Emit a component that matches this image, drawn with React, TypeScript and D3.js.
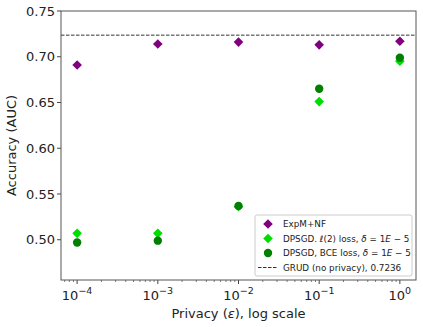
import * as d3 from "d3";
import React from "react";

const epsilons = [1e-4, 1e-3, 1e-2, 1e-1, 1];
const expmValues = [0.691, 0.714, 0.716, 0.713, 0.717];
const dpsgdL2Values = [0.507, 0.507, 0.536, 0.651, 0.695];
const dpsgdBceValues = [0.497, 0.499, 0.537, 0.665, 0.699];
const grudBaseline = 0.7236;
const yTicks = [0.5, 0.55, 0.6, 0.65, 0.7, 0.75];
const xTickExps = [-4, -3, -2, -1, 0];

const W = 423;
const H = 327;
const margin = { left: 61, right: 7, top: 11, bottom: 47 };

const App = () => {
  const x = d3
    .scaleLog()
    .domain([Math.pow(10, -4.2), Math.pow(10, 0.2)])
    .range([margin.left, W - margin.right]);
  const y = d3
    .scaleLinear()
    .domain([0.456, 0.75])
    .range([H - margin.bottom, margin.top]);

  const font = "DejaVu Sans, sans-serif";
  const bottom = H - margin.bottom;

  // minor ticks on log axis
  const minor: number[] = [];
  for (let e = -5; e <= 0; e++) {
    for (let k = 2; k <= 9; k++) {
      const v = k * Math.pow(10, e);
      if (v >= x.domain()[0] && v <= x.domain()[1]) minor.push(v);
    }
  }

  const diamond = d3.symbol().type(d3.symbolSquare).size(46)();
  const purple = "#800080";
  const lime = "#00dd00";
  const green = "#007f00";

  const legendX = 255;
  const legendY = 215;
  const legendRows = [
    { kind: "diamond", color: purple },
    { kind: "diamond", color: lime },
    { kind: "circle", color: green },
    { kind: "dash", color: "#333" },
  ];

  return (
    <svg
      width={W}
      height={H}
      style={{ position: "absolute", left: 0, top: 0, background: "#fff" }}
      fontFamily={font}
    >
      {/* baseline */}
      <line
        x1={margin.left}
        x2={W - margin.right}
        y1={y(grudBaseline)}
        y2={y(grudBaseline)}
        stroke="#333"
        strokeWidth={1}
        strokeDasharray="3.5,1.5"
      />

      {/* y axis ticks */}
      {yTicks.map((t) => (
        <g key={t}>
          <line x1={margin.left - 4} x2={margin.left} y1={y(t)} y2={y(t)} stroke="#444" />
          <text x={margin.left - 6} y={y(t)} dy="0.35em" textAnchor="end" fontSize={13} fill="#222">
            {t.toFixed(2)}
          </text>
        </g>
      ))}

      {/* x axis ticks */}
      {minor.map((v, i) => (
        <line key={i} x1={x(v)} x2={x(v)} y1={bottom} y2={bottom + 2} stroke="#444" strokeWidth={0.7} />
      ))}
      {xTickExps.map((e) => (
        <g key={e}>
          <line x1={x(Math.pow(10, e))} x2={x(Math.pow(10, e))} y1={bottom} y2={bottom + 4} stroke="#444" />
          <text x={x(Math.pow(10, e))} y={bottom + 20} textAnchor="middle" fontSize={13} fill="#222">
            10
            <tspan dy={-6} fontSize={9.5}>
              {e < 0 ? `\u2212${-e}` : `${e}`}
            </tspan>
          </text>
        </g>
      ))}

      {/* series */}
      {epsilons.map((e, i) => (
        <path
          key={"p" + i}
          d={diamond}
          transform={`translate(${x(e)},${y(expmValues[i])}) rotate(45)`}
          fill={purple}
        />
      ))}
      {epsilons.map((e, i) => (
        <path
          key={"l" + i}
          d={diamond}
          transform={`translate(${x(e)},${y(dpsgdL2Values[i])}) rotate(45)`}
          fill={lime}
        />
      ))}
      {epsilons.map((e, i) => (
        <circle key={"g" + i} cx={x(e)} cy={y(dpsgdBceValues[i])} r={4.2} fill={green} />
      ))}

      {/* frame */}
      <rect
        x={margin.left}
        y={margin.top}
        width={W - margin.left - margin.right}
        height={H - margin.top - margin.bottom}
        fill="none"
        stroke="#555"
        strokeWidth={1}
      />

      {/* legend */}
      <rect x={legendX} y={legendY} width={157} height={61} rx={2} fill="#fff" fillOpacity={0.8} stroke="#ccc" />
      {legendRows.map((r, i) => {
        const cy = legendY + 9 + i * 14.5;
        const cx = legendX + 13;
        return (
          <g key={i}>
            {r.kind === "diamond" && (
              <path d={diamond} transform={`translate(${cx},${cy}) rotate(45)`} fill={r.color} />
            )}
            {r.kind === "circle" && <circle cx={cx} cy={cy} r={4.2} fill={r.color} />}
            {r.kind === "dash" && (
              <line x1={cx - 10} x2={cx + 10} y1={cy} y2={cy} stroke={r.color} strokeDasharray="3.5,1.5" />
            )}
          </g>
        );
      })}
      <g fontSize={8.8} fill="#222">
        <text x={legendX + 28} y={legendY + 9} dy="0.35em">ExpM+NF</text>
        <text x={legendX + 28} y={legendY + 23.5} dy="0.35em">
          DPSGD. <tspan fontStyle="italic">ℓ</tspan>(2) loss, <tspan fontStyle="italic">δ</tspan> = 1
          <tspan fontStyle="italic">E</tspan> − 5
        </text>
        <text x={legendX + 28} y={legendY + 38} dy="0.35em">
          DPSGD, BCE loss, <tspan fontStyle="italic">δ</tspan> = 1<tspan fontStyle="italic">E</tspan> − 5
        </text>
        <text x={legendX + 28} y={legendY + 52.5} dy="0.35em">GRUD (no privacy), 0.7236</text>
      </g>

      {/* axis labels */}
      <text x={(margin.left + W - margin.right) / 2} y={318} textAnchor="middle" fontSize={13} fill="#222">
        Privacy (<tspan fontStyle="italic">ε</tspan>), log scale
      </text>
      <text
        transform={`translate(16,${(margin.top + bottom) / 2}) rotate(-90)`}
        textAnchor="middle"
        fontSize={13}
        fill="#222"
      >
        Accuracy (AUC)
      </text>
    </svg>
  );
};

export default App;
